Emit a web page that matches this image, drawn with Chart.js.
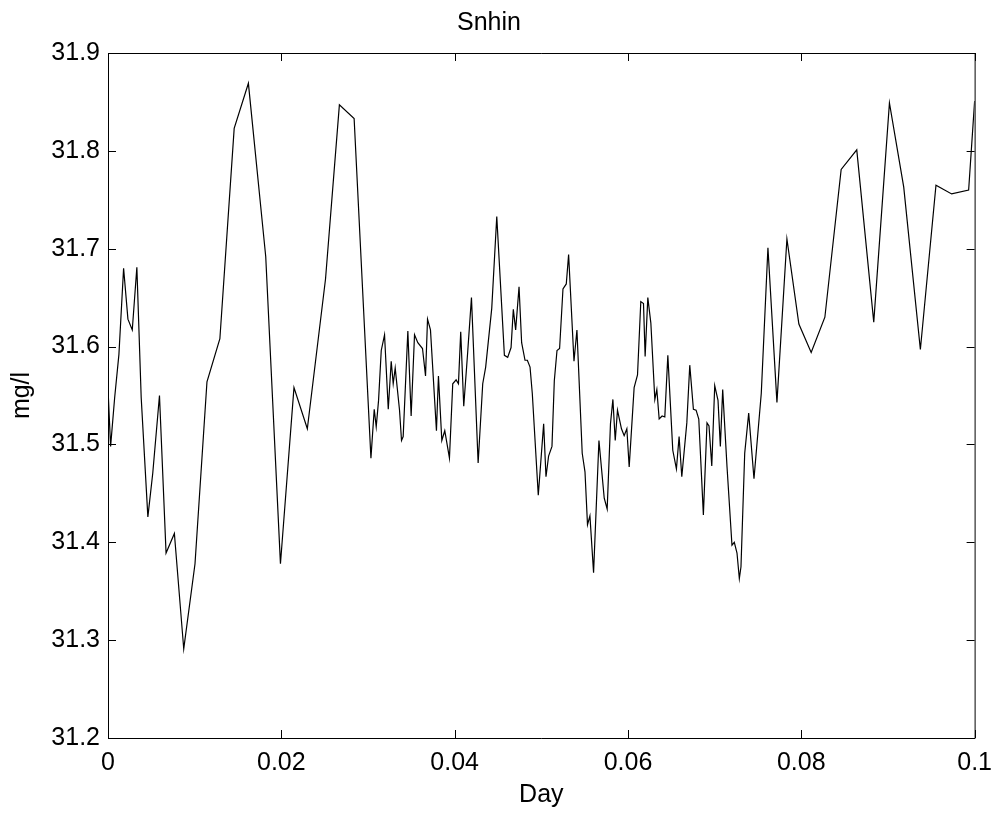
<!DOCTYPE html>
<html>
<head>
<meta charset="utf-8">
<title>Snhin</title>
<script src="https://cdn.jsdelivr.net/npm/chart.js@4/dist/chart.umd.min.js"></script>
<style>
  html, body { margin: 0; padding: 0; background: #fff; }
  #wrap { width: 1002px; height: 814px; }
</style>
</head>
<body>
<div id="wrap"><canvas id="snhinChart" width="1002" height="814"></canvas></div>
<script>
// values
var dayValues = [
    0, 0.0003, 0.00077, 0.00126, 0.0018, 0.0023, 0.0028, 0.00333, 0.00383, 0.0046,
    0.00517, 0.00594, 0.0067, 0.00766, 0.00874, 0.01004, 0.01142, 0.01291, 0.01456, 0.0162,
    0.0182, 0.0199, 0.02146, 0.023, 0.0251, 0.0267, 0.0284, 0.03034, 0.03072, 0.03095,
    0.03122, 0.03153, 0.03191, 0.03234, 0.03268, 0.03291, 0.03314, 0.03364, 0.03387, 0.03406,
    0.0346, 0.03498, 0.03537, 0.03575, 0.03629, 0.03664, 0.03687, 0.03721, 0.0379, 0.03813,
    0.03852, 0.03886, 0.0394, 0.03978, 0.04017, 0.04044, 0.0407, 0.04105, 0.04151, 0.04194,
    0.04271, 0.04324, 0.04358, 0.04428, 0.04486, 0.04574, 0.04612, 0.04651, 0.04677, 0.04704,
    0.04743, 0.04773, 0.04812, 0.04839, 0.0487, 0.04896, 0.04965, 0.05027, 0.05054, 0.05084,
    0.05123, 0.0515, 0.05181, 0.05211, 0.0525, 0.05288, 0.05315, 0.05377, 0.05411, 0.05472,
    0.05504, 0.05533, 0.05561, 0.05603, 0.05665, 0.05726, 0.0576, 0.05798, 0.05826, 0.05853,
    0.05879, 0.05925, 0.05956, 0.05987, 0.06014, 0.06071, 0.0611, 0.06148, 0.06179, 0.06198,
    0.06229, 0.06264, 0.0631, 0.06333, 0.0636, 0.06394, 0.06425, 0.0646, 0.06517, 0.06559,
    0.0659, 0.06621, 0.06679, 0.06713, 0.06755, 0.06786, 0.06817, 0.0687, 0.06912, 0.06935,
    0.06967, 0.07001, 0.07039, 0.07066, 0.07093, 0.07143, 0.072, 0.07227, 0.07258, 0.07285,
    0.07304, 0.07347, 0.07393, 0.07454, 0.07538, 0.07615, 0.07719, 0.07834, 0.07972, 0.08114,
    0.08272, 0.0846, 0.0864, 0.08836, 0.09017, 0.09182, 0.09374, 0.09554, 0.09735, 0.09931,
    0.1
];

var snhinValues = [
    31.557, 31.498, 31.548, 31.592, 31.680, 31.628, 31.617, 31.681, 31.548, 31.426,
    31.471, 31.550, 31.389, 31.409, 31.291, 31.378, 31.564, 31.608, 31.823, 31.869,
    31.692, 31.378, 31.558, 31.516, 31.669, 31.847, 31.833, 31.486, 31.536, 31.518,
    31.545, 31.596, 31.612, 31.536, 31.585, 31.562, 31.578, 31.535, 31.504, 31.508,
    31.616, 31.529, 31.612, 31.604, 31.598, 31.570, 31.628, 31.617, 31.514, 31.570,
    31.504, 31.514, 31.486, 31.562, 31.566, 31.562, 31.615, 31.539, 31.595, 31.650,
    31.481, 31.562, 31.579, 31.639, 31.733, 31.591, 31.589, 31.599, 31.638, 31.617,
    31.661, 31.604, 31.586, 31.586, 31.579, 31.552, 31.448, 31.521, 31.467, 31.488,
    31.498, 31.565, 31.596, 31.598, 31.659, 31.664, 31.694, 31.585, 31.617, 31.491,
    31.472, 31.418, 31.427, 31.369, 31.504, 31.445, 31.434, 31.521, 31.546, 31.504,
    31.535, 31.516, 31.509, 31.516, 31.477, 31.558, 31.571, 31.646, 31.644, 31.590,
    31.650, 31.624, 31.546, 31.556, 31.526, 31.529, 31.528, 31.591, 31.494, 31.475,
    31.508, 31.467, 31.522, 31.581, 31.536, 31.535, 31.526, 31.428, 31.522, 31.519,
    31.478, 31.560, 31.545, 31.498, 31.556, 31.477, 31.397, 31.400, 31.389, 31.363,
    31.375, 31.491, 31.532, 31.465, 31.552, 31.701, 31.543, 31.710, 31.623, 31.594,
    31.630, 31.781, 31.801, 31.625, 31.849, 31.763, 31.597, 31.765, 31.756, 31.760,
    31.851
];

var xTicks = [0, 0.02, 0.04, 0.06, 0.08, 0.1];
var xTickLabels = ["0", "0.02", "0.04", "0.06", "0.08", "0.1"];
var yTicks = [31.2, 31.3, 31.4, 31.5, 31.6, 31.7, 31.8, 31.9];
var yTickLabels = ["31.2", "31.3", "31.4", "31.5", "31.6", "31.7", "31.8", "31.9"];

var fontFamily = "'Liberation Sans', Arial, Helvetica, sans-serif";

// box round the plot with inward ticks on all four sides
var boxTicks = {
    id: 'boxTicks',
    afterDatasetsDraw: function (chart) {
        var ctx = chart.ctx;
        var a = chart.chartArea;
        var x = chart.scales.x;
        var y = chart.scales.y;
        var len = 8;
        ctx.save();
        ctx.strokeStyle = '#000';
        ctx.lineWidth = 1;
        ctx.beginPath();
        ctx.rect(a.left + 0.5, a.top + 0.5, a.right - a.left, a.bottom - a.top);
        x.ticks.forEach(function (t) {
            var px = Math.round(x.getPixelForValue(t.value)) + 0.5;
            ctx.moveTo(px, a.bottom);
            ctx.lineTo(px, a.bottom - len);
            ctx.moveTo(px, a.top);
            ctx.lineTo(px, a.top + len);
        });
        y.ticks.forEach(function (t) {
            var py = Math.round(y.getPixelForValue(t.value)) + 0.5;
            ctx.moveTo(a.left, py);
            ctx.lineTo(a.left + len, py);
            ctx.moveTo(a.right, py);
            ctx.lineTo(a.right - len, py);
        });
        ctx.stroke();
        ctx.restore();
    }
};

function makeChart() {
    var points = [];
    for (var i = 0; i < dayValues.length; i++) {
        points.push({x: dayValues[i], y: snhinValues[i]});
    }

    Chart.defaults.color = '#000';
    Chart.defaults.font.family = fontFamily;
    Chart.defaults.font.size = 25;

    new Chart(document.getElementById("snhinChart"), {
        type: 'line',
        data: {
            datasets: [{
                label: "Snhin",
                data: points,
                borderColor: '#000',
                borderWidth: 1.2,
                pointRadius: 0,
                tension: 0,
                fill: false
            }]
        },
        options: {
            responsive: false,
            animation: false,
            layout: {padding: {left: 0, right: 24, top: 0, bottom: 0}},
            plugins: {
                legend: {display: false},
                tooltip: {enabled: false},
                title: {
                    display: true,
                    text: "Snhin",
                    color: '#000',
                    font: {size: 25, weight: 'normal'},
                    padding: {top: 8.5, bottom: 14.5}
                }
            },
            scales: {
                x: {
                    type: 'linear',
                    min: 0,
                    max: 0.1,
                    grid: {display: false, drawTicks: false},
                    border: {display: false},
                    afterBuildTicks: function (scale) {
                        scale.ticks = xTicks.map(function (v) { return {value: v}; });
                    },
                    afterFit: function (scale) { scale.height = 76; },
                    ticks: {
                        padding: 10,
                        maxRotation: 0,
                        autoSkip: false,
                        callback: function (value, index) { return xTickLabels[index]; }
                    },
                    title: {
                        display: true,
                        text: "Day",
                        font: {size: 25},
                        padding: {top: 0, bottom: 3.4}
                    }
                },
                y: {
                    type: 'linear',
                    min: 31.2,
                    max: 31.9,
                    grid: {display: false, drawTicks: false},
                    border: {display: false},
                    afterBuildTicks: function (scale) {
                        scale.ticks = yTicks.map(function (v) { return {value: v}; });
                    },
                    afterFit: function (scale) { scale.width = 108; },
                    ticks: {
                        padding: 8,
                        autoSkip: false,
                        callback: function (value, index) { return yTickLabels[index]; }
                    },
                    title: {
                        display: true,
                        text: "mg/l",
                        font: {size: 25},
                        padding: {top: 7.4, bottom: 0}
                    }
                }
            }
        },
        plugins: [boxTicks]
    });
}

document.addEventListener('DOMContentLoaded', makeChart);
</script>
</body>
</html>
